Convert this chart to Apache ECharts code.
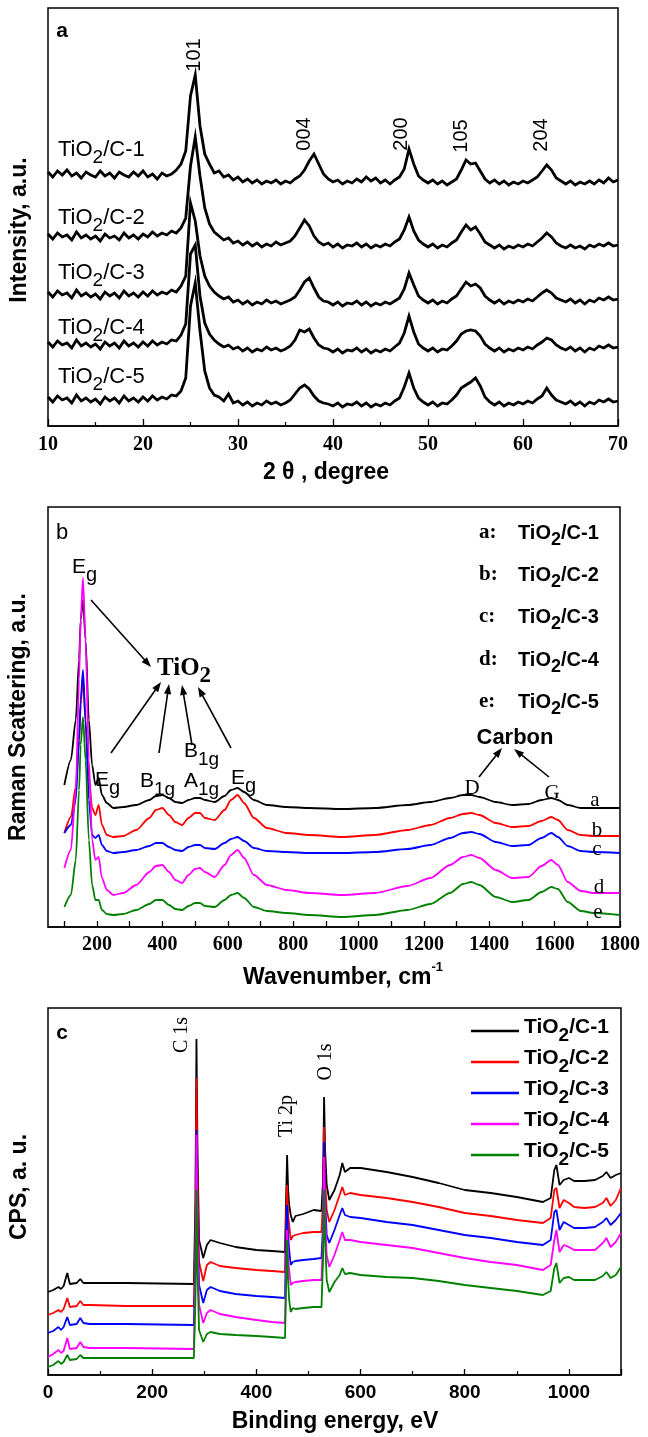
<!DOCTYPE html>
<html><head><meta charset="utf-8">
<script src="https://cdn.jsdelivr.net/npm/echarts@6/dist/echarts.min.js"></script>
<style>html,body{margin:0;padding:0;background:#fff}#c{width:648px;height:1437px}</style>
</head><body><div id="c"></div>
<script>
// ---------- shared ----------
const sampleNames = ['TiO2/C-1', 'TiO2/C-2', 'TiO2/C-3', 'TiO2/C-4', 'TiO2/C-5'];
const sampleColors = ['#000000', '#ff0000', '#0000ff', '#ff00ff', '#008000'];

// ---------- panel a : XRD (intensity read in a.u. above the panel floor) ----------
const xrdTickLabels = [10, 20, 30, 40, 50, 60, 70];
const xrdAngles = [
  10,10.5,11,11.5,12,12.5,13,13.5,14,14.5, 15,15.5,16,16.5,17,17.5,18,18.5,19,19.5,
  20,20.5,21,21.5,22,22.5,23,23.5,24,24.5, 25,25.5,26,26.5,27,27.5,28,28.5,29,29.5,
  30,30.5,31,31.5,32,32.5,33,33.5,34,34.5, 35,35.5,36,36.5,37,37.5,38,38.5,39,39.5,
  40,40.5,41,41.5,42,42.5,43,43.5,44,44.5, 45,45.5,46,46.5,47,47.5,48,48.5,49,49.5,
  50,50.5,51,51.5,52,52.5,53,53.5,54,54.5, 55,55.5,56,56.5,57,57.5,58,58.5,59,59.5,
  60,60.5,61,61.5,62,62.5,63,63.5,64,64.5, 65,65.5,66,66.5,67,67.5,68,68.5,69,69.5, 70];
const xrdC1 = [
  254,249,255,251,256,250,253,248,254,251, 249,255,250,253,248,254,251,249,254,250,
  255,249,252,247,253,250,252,256,262,275, 330,351,300,272,262,253,255,249,251,246,
  249,244,247,243,246,242,245,243,246,242, 245,243,247,250,256,265,272,262,252,247,
  244,246,242,245,243,247,244,249,245,248, 243,246,242,246,249,257,277,262,250,246,
  243,246,242,245,241,244,247,256,266,262, 263,255,247,243,246,242,245,241,244,242,
  245,243,246,249,255,261,256,248,245,242, 245,241,244,242,245,242,246,243,248,244, 246];
const xrdC2 = [
  192,187,193,189,191,186,194,188,191,187, 190,185,192,188,190,186,193,188,191,187,
  192,189,194,190,193,191,195,193,198,208, 260,289,250,218,202,194,190,186,188,183,
  185,181,184,180,183,179,182,180,184,181, 183,185,190,198,206,200,190,184,181,183,
  179,182,178,181,180,183,179,182,178,181, 179,182,180,184,187,196,209,195,186,182,
  179,182,178,181,179,183,186,194,201,196, 199,192,184,181,178,181,177,180,178,181,
  179,182,180,184,188,193,189,183,180,178, 181,178,180,177,181,179,182,180,183,180, 181];
const xrdC3 = [
  134,129,135,131,133,128,136,130,133,129, 132,127,134,130,133,128,135,130,133,129,
  134,130,135,131,134,132,136,134,140,150, 223,205,170,150,140,134,130,127,129,124,
  126,122,125,121,124,122,126,123,125,122, 124,126,129,136,144,148,138,129,125,124,
  121,124,120,123,122,125,121,124,120,123, 121,124,122,125,128,137,153,141,130,126,
  123,126,122,125,123,127,130,137,144,140, 142,138,130,126,123,126,122,125,123,126,
  124,127,125,129,133,136,133,128,126,124, 127,123,126,122,126,124,128,126,129,126, 127];
const xrdC4 = [
  84,79,85,81,83,78,86,80,83,79, 82,77,84,80,83,78,85,80,83,79,
  84,80,85,81,84,82,86,85,91,102, 172,181,130,103,92,86,82,79,81,77,
  79,75,78,74,77,75,79,76,78,75, 77,80,86,96,94,97,88,81,78,77,
  74,77,73,76,75,78,74,77,73,76, 74,77,75,79,83,93,110,94,82,78,
  75,78,74,77,76,80,85,92,95,96, 95,90,82,78,75,78,74,77,75,78,
  76,79,77,81,84,88,86,81,78,76, 79,75,78,74,78,76,80,78,81,78, 79];
const xrdC5 = [
  29,24,30,26,28,23,31,25,28,24, 27,22,29,25,28,23,30,25,28,24,
  29,25,30,26,29,27,31,30,35,48, 120,143,95,55,38,31,29,25,32,23,
  25,21,24,20,23,21,25,22,24,21, 23,26,32,38,41,37,30,25,23,22,
  20,23,19,22,21,24,20,23,19,22, 20,23,21,25,28,39,53,38,28,24,
  21,24,20,23,22,26,31,38,41,44, 48,40,29,24,21,24,20,23,21,24,
  22,25,23,27,30,38,31,26,24,22, 25,21,24,20,24,22,26,24,27,24, 25];
const xrdCurves = [xrdC1, xrdC2, xrdC3, xrdC4, xrdC5];
const xrdPeakLabels = ['101', '004', '200', '105', '204'];

// ---------- panel b : Raman ----------
const ramanTickValues = [100,200,300,400,500,600,700,800,900,1000,1100,1200,1300,1400,1500,1600,1700,1800];
const ramanLabelValues = [200,400,600,800,1000,1200,1400,1600,1800];
const ramanShift = [
  100,120,135,145,150,157,165,175,185,195, 205,215,230,250,280,320,360,380,400,420,
  440,460,480,500,515,530,560,590,610,630, 650,680,720,780,850,950,1050,1150,1220,1280,
  1320,1345,1370,1420,1470,1520,1560,1590,1610,1640, 1680,1720,1800];
const ramanA = [
  142,167,207,267,307,327,287,207,162,142, 149,132,124,119,120,122,127,131,132,129,
  125,124,127,129,129,127,125,131,137,139, 135,127,122,120,119,118,119,122,125,129,
  132,132,130,125,122,123,127,129,127,122, 119,119,119];
const ramanB = [
  94,110,140,185,222,250,203,150,119,112, 122,102,92,90,91,97,109,117,119,112,
  105,102,109,114,114,109,107,117,127,132, 124,109,99,94,92,90,92,97,102,109,
  113,114,112,104,100,101,106,110,107,97, 92,91,91];
const ramanC = [
  94,102,127,187,227,257,207,127,92,89, 92,82,76,74,75,77,81,84,84,80,
  77,76,80,82,82,79,78,84,88,90, 86,79,76,75,74,74,75,78,82,89,
  94,95,93,85,81,82,89,94,90,81, 76,75,74];
const ramanD = [
  59,77,137,247,307,349,287,167,87,67, 70,49,37,32,34,42,55,61,62,55,
  47,44,52,58,59,55,50,62,72,77, 69,52,42,37,34,32,34,41,49,62,
  70,72,69,57,49,50,61,67,62,45, 36,34,34];
const ramanE = [
  20,32,67,137,182,210,167,87,42,27, 27,17,13,12,13,17,23,27,27,22,
  18,17,21,24,24,21,20,27,32,34, 29,20,16,14,12,10,12,17,23,34,
  43,45,42,30,25,27,35,40,38,25, 16,14,12];
const ramanCurves = [ramanA, ramanB, ramanC, ramanD, ramanE];
const ramanCurveLetters = ['a', 'b', 'c', 'd', 'e'];

// ---------- panel c : XPS survey ----------
const xpsTickLabels = [0, 200, 400, 600, 800, 1000];
const xpsEnergy = [
  0,10,20,25,30,37,42,55,62,68, 80,150,280,283,285,287,290,298,305,312,
  330,360,400,430,455,457,459,461,463,466, 470,475,490,510,525,528,530,532,535,540,
  550,560,565,570,580,600,650,700,750,800, 850,900,950,965,972,976,982,990,1000,1010,
  1030,1050,1065,1072,1080,1090,1100];
const xpsC1 = [
  83,85,88,86,89,102,91,92,96,92, 92,92,91,175,336,225,135,117,130,135,
  132,128,125,124,123,175,220,185,170,160, 153,159,161,165,164,195,278,225,190,175,
  185,200,212,203,207,207,203,198,192,185, 182,178,173,177,205,210,190,195,197,194,
  194,195,199,203,197,200,202];
const xpsC2 = [
  60,62,65,63,66,77,68,69,74,70, 70,69,69,145,297,195,113,94,110,113,
  109,107,105,104,103,155,190,160,150,135, 139,140,142,143,143,175,248,195,165,153,
  165,180,188,180,182,180,177,173,168,162, 159,155,152,157,185,187,167,175,172,168,
  167,168,172,177,169,175,187];
const xpsC3 = [
  42,44,48,45,48,58,50,51,57,52, 51,51,50,115,245,155,90,72,85,88,
  84,81,79,78,77,135,170,140,125,110, 113,114,115,116,117,150,233,175,140,132,
  145,160,167,160,158,157,153,150,145,140, 137,133,130,135,163,165,145,153,150,147,
  147,148,153,157,150,155,162];
const xpsC4 = [
  18,21,25,22,24,37,26,27,33,28, 27,27,26,95,240,135,70,52,62,65,
  61,58,55,53,52,105,145,115,105,90, 92,93,94,95,95,135,218,160,120,108,
  120,135,143,135,135,133,130,127,122,117, 113,110,105,110,135,145,123,130,128,125,
  125,125,132,137,128,133,142];
const xpsC5 = [
  8,10,14,11,13,20,15,16,20,17, 17,17,17,75,185,105,45,33,41,43,
  41,40,39,38,37,85,135,95,75,63, 67,66,67,68,68,115,185,135,95,83,
  93,100,107,101,102,100,98,97,94,90, 87,84,80,84,107,112,92,97,98,95,
  95,95,99,103,97,100,108];
const xpsCurves = [xpsC1, xpsC2, xpsC3, xpsC4, xpsC5];
const xpsPeakLabels = ['C 1s', 'Ti 2p', 'O 1s'];

// ================= build =================
const SANS = '"Liberation Sans", Arial, sans-serif';
const SERIF = '"Liberation Serif", "Times New Roman", serif';
const zip = (xs, ys) => xs.map((x, i) => [x, ys[i]]);

function subRich(family, size, weight, subSize, drop) {
  return {
    n: {fontFamily: family, fontSize: size, fontWeight: weight, verticalAlign: 'top', lineHeight: size, fill: '#000', color: '#000'},
    s: {fontFamily: family, fontSize: subSize, fontWeight: weight, verticalAlign: 'top',
        padding: [drop + (size - subSize) / 2, 0, 0, 0], fill: '#000', color: '#000'}
  };
}
function tio2(rest) { return '{n|TiO}{s|2}{n|' + rest + '}'; }

function txt(x, y, text, o) {
  o = o || {};
  const al = o.align || 'center', va = o.va || 'middle';
  const st = {text: text, fill: '#000', align: al, verticalAlign: va, textAlign: al, textVerticalAlign: va};
  if (o.font) st.font = o.font;
  if (o.rich) st.rich = o.rich;
  return {type: 'text', x: x, y: y, rotation: o.rot || 0, z: 100, silent: true, style: st};
}
function arrow(x1, y1, x2, y2) {
  const dx = x2 - x1, dy = y2 - y1, L = Math.sqrt(dx * dx + dy * dy);
  const ux = dx / L, uy = dy / L, hl = 10, hw = 3.6;
  const bx = x2 - ux * hl, by = y2 - uy * hl;
  return [
    {type: 'line', z: 100, silent: true, shape: {x1: x1, y1: y1, x2: bx + ux * 2, y2: by + uy * 2}, style: {stroke: '#000', lineWidth: 1.6}},
    {type: 'polygon', z: 100, silent: true, shape: {points: [[x2, y2], [bx - uy * hw, by + ux * hw], [bx + uy * hw, by - ux * hw]]}, style: {fill: '#000'}}
  ];
}

const axisBlack = {lineStyle: {color: '#000', width: 1.5}};
const grids = [
  {left: 48, top: 8, width: 570, height: 418},
  {left: 48, top: 507, width: 572, height: 420},
  {left: 48, top: 1008, width: 573, height: 367}
].map(g => Object.assign(g, {show: true, borderColor: '#000', borderWidth: 1.5, backgroundColor: 'transparent', containLabel: false, outerBoundsMode: 'none'}));

const xAxes = [
  {gridIndex: 0, type: 'value', min: 10, max: 70, interval: 10,
   axisLine: axisBlack, splitLine: {show: false},
   axisTick: {inside: true, length: 7, lineStyle: {color: '#000', width: 1.3}},
   minorTick: {show: true, splitNumber: 2, length: 4, lineStyle: {color: '#000', width: 1.2}},
   axisLabel: {color: '#000', fontFamily: SERIF, fontWeight: 'bold', fontSize: 20, margin: 9,
     formatter: v => xrdTickLabels.indexOf(v) >= 0 ? String(v) : ''}},
  {gridIndex: 1, type: 'value', min: 50, max: 1800,
   axisLine: axisBlack, splitLine: {show: false},
   axisTick: {inside: true, length: 6, customValues: ramanTickValues, lineStyle: {color: '#000', width: 1.3}},
   axisLabel: {color: '#000', fontFamily: SERIF, fontWeight: 'bold', fontSize: 20, margin: 8, customValues: ramanLabelValues,
     formatter: v => String(v)}},
  {gridIndex: 2, type: 'value', min: 0, max: 1100, interval: 200,
   axisLine: axisBlack, splitLine: {show: false},
   axisTick: {inside: true, length: 6, lineStyle: {color: '#000', width: 1.3}},
   minorTick: {show: true, splitNumber: 2, length: 4, lineStyle: {color: '#000', width: 1.2}},
   axisLabel: {color: '#000', fontFamily: SANS, fontWeight: 'bold', fontSize: 19, margin: 8,
     formatter: v => xpsTickLabels.indexOf(v) >= 0 ? String(v) : ''}}
];
const yAxes = [
  {gridIndex: 0, type: 'value', min: 0, max: 418, show: false},
  {gridIndex: 1, type: 'value', min: 0, max: 420, show: false},
  {gridIndex: 2, type: 'value', min: 0, max: 367, show: false}
];

const series = [];
xrdCurves.forEach((ys, i) => series.push({
  name: 'XRD ' + sampleNames[i], type: 'line', xAxisIndex: 0, yAxisIndex: 0,
  data: zip(xrdAngles, ys), symbol: 'none', showSymbol: false, silent: true,
  lineStyle: {color: '#000', width: 2.8, join: 'miter'}, itemStyle: {color: '#000'}
}));
ramanCurves.forEach((ys, i) => series.push({
  name: 'Raman ' + sampleNames[i], type: 'line', xAxisIndex: 1, yAxisIndex: 1,
  data: zip(ramanShift, ys), symbol: 'none', showSymbol: false, silent: true,
  smooth: 0.25, smoothMonotone: 'x',
  lineStyle: {color: sampleColors[i], width: 1.8}, itemStyle: {color: sampleColors[i]}
}));
xpsCurves.forEach((ys, i) => series.push({
  name: sampleNames[i], type: 'line', xAxisIndex: 2, yAxisIndex: 2,
  data: zip(xpsEnergy, ys), symbol: 'none', showSymbol: false, silent: true,
  lineStyle: {color: sampleColors[i], width: 1.8}, itemStyle: {color: sampleColors[i]}
}));

// ---------- annotations ----------
const g = [];
const titleFont = 'bold 23px ' + SANS;
// panel a
g.push(txt(62, 31, 'a', {font: 'bold 21px ' + SANS}));
const xrdPeakPos = [[194, 55], [304, 134], [401, 134], [461, 136], [541, 135]];
xrdPeakLabels.forEach((t, i) => g.push(txt(xrdPeakPos[i][0], xrdPeakPos[i][1], t, {font: '20px ' + SANS, rot: Math.PI / 2})));
const xrdLabelY = [150, 218, 273, 328, 377];
const richA = subRich(SANS, 22, 'normal', 19, 8);
sampleNames.forEach((n, i) => g.push(txt(58, xrdLabelY[i] - 11, tio2(n.slice(4)), {rich: richA, align: 'left', va: 'top'})));
g.push(txt(326, 473, '2 \u03b8 , degree', {font: titleFont}));
g.push(txt(20, 230, 'Intensity, a.u.', {font: titleFont, rot: Math.PI / 2}));

// panel b
g.push(txt(62, 533, 'b', {font: '22px ' + SANS}));
const richEg = subRich(SANS, 21, 'normal', 20, 8);
g.push(txt(72, 567 - 10, '{n|E}{s|g}', {rich: richEg, align: 'left', va: 'top'}));
g.push(txt(95, 780 - 10, '{n|E}{s|g}', {rich: richEg, align: 'left', va: 'top'}));
g.push(txt(231, 778 - 10, '{n|E}{s|g}', {rich: richEg, align: 'left', va: 'top'}));
const richB = subRich(SANS, 21, 'normal', 19, 8);
g.push(txt(140, 781 - 10, '{n|B}{s|1g}', {rich: richB, align: 'left', va: 'top'}));
g.push(txt(184, 781 - 10, '{n|A}{s|1g}', {rich: richB, align: 'left', va: 'top'}));
g.push(txt(184, 751 - 10, '{n|B}{s|1g}', {rich: richB, align: 'left', va: 'top'}));
const richT = subRich(SERIF, 25, 'bold', 23, 8);
g.push(txt(157, 668 - 12, '{n|TiO}{s|2}', {rich: richT, align: 'left', va: 'top'}));
[[91, 600, 151, 667], [111, 753, 161, 682], [159, 753, 169, 684], [192, 745, 182, 685], [231, 748, 198, 687],
 [479, 777, 502, 748], [549, 777, 514, 749]].forEach(a => arrow(a[0], a[1], a[2], a[3]).forEach(e => g.push(e)));
g.push(txt(515, 738, 'Carbon', {font: 'bold 22px ' + SANS}));
g.push(txt(472, 788, 'D', {font: '21px ' + SERIF}));
g.push(txt(552, 793, 'G', {font: '21px ' + SERIF}));
const ramanLetterPos = [[595, 800], [597, 830], [597, 849], [599, 887], [598, 912]];
ramanCurveLetters.forEach((t, i) => g.push(txt(ramanLetterPos[i][0], ramanLetterPos[i][1], t, {font: '21px ' + SERIF})));
const ramanLegendY = [533, 575, 617, 660, 702];
const richL = subRich(SANS, 20, 'bold', 18, 7);
sampleNames.forEach((n, i) => {
  g.push(txt(479, ramanLegendY[i], ramanCurveLetters[i] + ':', {font: 'bold 21px ' + SERIF, align: 'left'}));
  g.push(txt(518, ramanLegendY[i] - 10, tio2(n.slice(4)), {rich: richL, align: 'left', va: 'top'}));
});
g.push(txt(343, 961, '{n|Wavenumber, cm}{p|-1}', {align: 'center', va: 'top', rich: {
  n: {fontFamily: SANS, fontSize: 23, fontWeight: 'bold', verticalAlign: 'top', lineHeight: 23, padding: [5, 0, 0, 0], fill: '#000'},
  p: {fontFamily: SANS, fontSize: 13, fontWeight: 'bold', verticalAlign: 'top', fill: '#000'}
}}));
g.push(txt(19, 717, 'Raman Scattering, a.u.', {font: titleFont, rot: Math.PI / 2}));

// panel c
g.push(txt(62, 1033, 'c', {font: 'bold 21px ' + SANS}));
const xpsPeakPos = [[182, 1035], [287, 1116], [326, 1062]];
xpsPeakLabels.forEach((t, i) => g.push(txt(xpsPeakPos[i][0], xpsPeakPos[i][1], t, {font: '20px ' + SERIF, rot: Math.PI / 2})));
g.push(txt(335, 1422, 'Binding energy, eV', {font: titleFont}));
g.push(txt(20, 1187, 'CPS, a. u.', {font: titleFont, rot: Math.PI / 2}));

const richLeg = subRich(SANS, 21, 'bold', 19, 8);
const option = {
  animation: false,
  backgroundColor: '#fff',
  grid: grids, xAxis: xAxes, yAxis: yAxes, series: series,
  legend: {
    data: sampleNames, orient: 'vertical', left: 471, top: 1017, itemWidth: 48, itemHeight: 2.5,
    icon: 'rect', itemGap: 3, padding: 0, selectedMode: false,
    formatter: name => tio2(name.slice(4)),
    textStyle: {color: '#000', rich: richLeg}
  },
  graphic: {elements: g}
};
const chart = echarts.init(document.getElementById('c'), null, {renderer: 'canvas', width: 648, height: 1437});
chart.setOption(option);
</script>
</body></html>
